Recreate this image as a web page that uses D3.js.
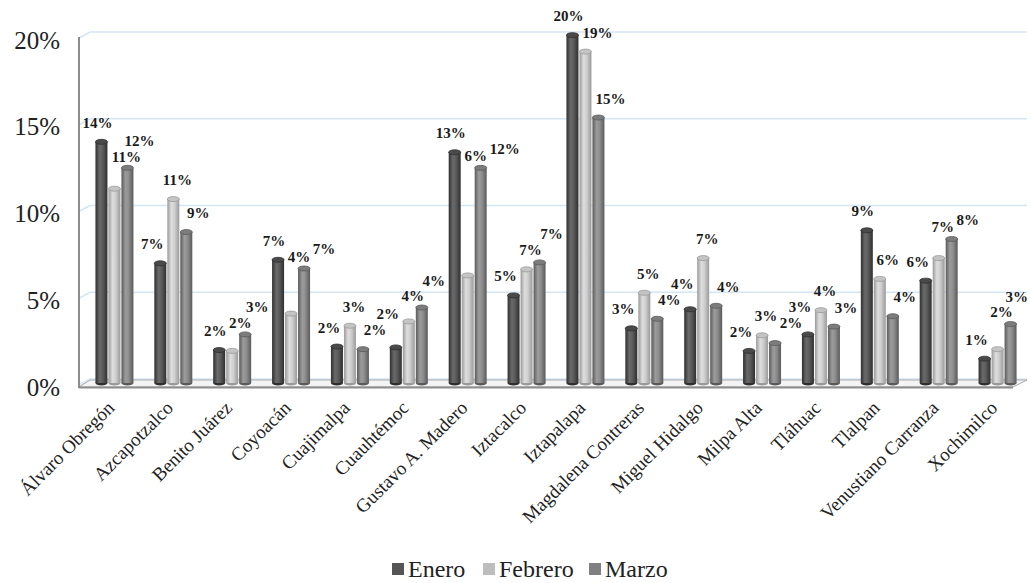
<!DOCTYPE html>
<html>
<head>
<meta charset="utf-8">
<script src="https://cdn.jsdelivr.net/npm/d3@7"></script>
</head>
<body style="margin:0">
<svg id="s" width="1031" height="583"></svg>
<script>
const categories = ["Álvaro Obregón", "Azcapotzalco", "Benito Juárez", "Coyoacán", "Cuajimalpa", "Cuauhtémoc",
  "Gustavo A. Madero", "Iztacalco", "Iztapalapa", "Magdalena Contreras", "Miguel Hidalgo", "Milpa Alta",
  "Tláhuac", "Tlalpan", "Venustiano Carranza", "Xochimilco"];
const seriesNames = ["Enero", "Febrero", "Marzo"];
const enero   = [13.9, 6.9, 1.9, 7.1, 2.1, 2.05, 13.3, 5.05, 20.05, 3.15, 4.25, 1.85, 2.8, 8.8, 5.9, 1.4];
const febrero = [11.2, 10.6, 1.85, 4.0, 3.3, 3.55, 6.2, 6.55, 19.1, 5.2, 7.2, 2.75, 4.2, 6.0, 7.2, 1.95];
const marzo   = [12.4, 8.7, 2.8, 6.6, 1.95, 4.35, 12.4, 6.95, 15.3, 3.7, 4.45, 2.3, 3.25, 3.85, 8.3, 3.4];
const yTicks  = [0, 5, 10, 15, 20];

const seriesValues = [enero, febrero, marzo];
const W = 1031, H = 583;
const FONT = '"Liberation Serif"';
const setFont = sel => sel.style("font-family", FONT, "important");

const ctx = document.createElement("canvas").getContext("2d");
["", "bold "].forEach(wt => {
  ctx.font = wt + "20px \"Liberation Serif\", monospace";
  ctx.measureText("Álvaro Obregón Enero 20%");
});

const svg = d3.select("#s");
const defs = svg.append("defs");

const palette = [
  { edge: "#2f2f2f", mid: "#5c5c5c", light: "#6a6a6a", cap: "#4a4a4a", key: "#555555" },
  { edge: "#9a9a9a", mid: "#cfcfcf", light: "#dedede", cap: "#c4c4c4", key: "#bdbdbd" },
  { edge: "#5a5a5a", mid: "#8e8e8e", light: "#9c9c9c", cap: "#7c7c7c", key: "#808080" }
];
palette.forEach((p, i) => {
  const g = defs.append("linearGradient").attr("id", "cyl" + i)
    .attr("x1", "0%").attr("x2", "100%").attr("y1", "0%").attr("y2", "0%");
  g.append("stop").attr("offset", "0%").attr("stop-color", p.edge);
  g.append("stop").attr("offset", "35%").attr("stop-color", p.light);
  g.append("stop").attr("offset", "60%").attr("stop-color", p.mid);
  g.append("stop").attr("offset", "100%").attr("stop-color", p.edge);
});

const x0 = d3.scaleBand().domain(categories).range([85, 1027]).paddingInner(0.338).paddingOuter(0.169);
const x1 = d3.scaleBand().domain(seriesNames).range([0, x0.bandwidth()]).padding(0);
const y = d3.scaleLinear().domain([0, 20]).range([383, 36]);

const axisX = 79, backDX = 11;

const grid = svg.append("g");
yTicks.forEach(t => {
  const gy = y(t) - 4;
  grid.append("line").attr("x1", axisX).attr("y1", gy + 6).attr("x2", axisX + backDX).attr("y2", gy)
    .attr("stroke", "#d4e5f4").attr("stroke-width", 1.5);
  grid.append("line").attr("x1", axisX + backDX).attr("y1", gy).attr("x2", 1027).attr("y2", gy)
    .attr("stroke", "#d4e5f4").attr("stroke-width", 1.5);
});

svg.append("path")
  .attr("d", `M${axisX},387 L1013,387 L1027,380 L${axisX + backDX},380 Z`)
  .attr("fill", "#f4f4f4").attr("stroke", "#a8a8a8").attr("stroke-width", 1);
svg.append("line").attr("x1", axisX).attr("y1", 387.5).attr("x2", 1013).attr("y2", 387.5)
  .attr("stroke", "#8c8c8c").attr("stroke-width", 2);
svg.append("line").attr("x1", axisX).attr("y1", 37).attr("x2", axisX).attr("y2", 388)
  .attr("stroke", "#8c8c8c").attr("stroke-width", 2);

// y tick labels
svg.append("g").selectAll("text").data(yTicks).join("text")
  .attr("x", 60).attr("y", d => y(d) + 4)
  .attr("text-anchor", "end").attr("dominant-baseline", "central")
  .attr("font-size", 25).attr("fill", "#222")
  .call(setFont)
  .text(d => d + "%");

// bars
const barRects = [];
const barsG = svg.append("g");
categories.forEach((c, ci) => {
  seriesNames.forEach((s, si) => {
    const v = seriesValues[si][ci];
    const bx = x0(c) + x1(s) + 0.5;
    const bw = x1.bandwidth() - 1;
    const top = y(v), bot = y(0);
    const p = palette[si];
    const g = barsG.append("g");
    g.append("ellipse").attr("cx", bx + bw / 2).attr("cy", bot).attr("rx", bw / 2).attr("ry", 2.5)
      .attr("fill", p.edge);
    g.append("rect").attr("x", bx).attr("y", top).attr("width", bw).attr("height", bot - top)
      .attr("fill", `url(#cyl${si})`);
    g.append("ellipse").attr("cx", bx + bw / 2).attr("cy", top).attr("rx", bw / 2).attr("ry", 2.5)
      .attr("fill", p.cap).attr("stroke", p.edge).attr("stroke-width", 0.8);
    barRects.push({ x0: bx, x1: bx + bw, y0: top - 3, y1: bot });
  });
});

// data labels with simple collision avoidance
const fmt = d3.format(".0%");
const shifts = [-4, 4, 12];
const placed = [];
const labelsG = svg.append("g");
function hits(b) {
  for (const r of barRects) if (b.x0 < r.x1 && b.x1 > r.x0 && b.y0 < r.y1 && b.y1 > r.y0) return true;
  for (const r of placed) if (b.x0 < r.x1 && b.x1 > r.x0 && b.y0 < r.y1 && b.y1 > r.y0) return true;
  return false;
}
const dxTries = [0, 4, 8, 12, -4, -8];
categories.forEach((c, ci) => {
  seriesNames.forEach((s, si) => {
    const v = seriesValues[si][ci];
    const t = labelsG.append("text").text(fmt(v / 100))
      .attr("text-anchor", "middle").attr("fill", "#1a1a1a")
      .attr("font-size", 15).attr("font-weight", "bold").call(setFont);
    const w = t.node().getComputedTextLength() + 2;
    const baseX = x0(c) + x1(s) + x1.bandwidth() / 2 + shifts[si];
    const baseY = Math.max(y(v) - 14, 20);
    let best = null;
    for (let dy = 0; dy <= 120 && !best; dy++) {
      for (const dx of dxTries) {
        const cost = dy + Math.abs(dx) * 1.5;
        let cx = Math.min(baseX + dx, W - w / 2 - 2);
        const b = { x0: cx - w / 2, x1: cx + w / 2, y0: baseY - dy - 12, y1: baseY - dy + 3 };
        if (!hits(b) && (!best || cost < best.cost)) best = { cost, cx, by: baseY - dy, b };
      }
    }
    if (!best) best = { cx: baseX, by: baseY, b: { x0: baseX - w / 2, x1: baseX + w / 2, y0: baseY - 12, y1: baseY + 3 } };
    placed.push(best.b);
    t.attr("x", best.cx).attr("y", best.by);
  });
});

// x category labels
svg.append("g").selectAll("text").data(categories).join("text")
  .attr("transform", d => `translate(${x0(d) + x0.bandwidth() / 2 + 1},409) rotate(-45)`)
  .attr("text-anchor", "end")
  .attr("font-size", 19).attr("fill", "#222").call(setFont)
  .text(d => d);

// legend
const legend = svg.append("g").attr("transform", "translate(392,569)");
const legendX = [0, 91, 197];
seriesNames.forEach((s, i) => {
  const g = legend.append("g").attr("transform", `translate(${legendX[i]},0)`);
  g.append("rect").attr("x", 0).attr("y", -6).attr("width", 12).attr("height", 12)
    .attr("fill", palette[i].key);
  g.append("text").attr("x", 16).attr("y", 0).attr("dominant-baseline", "central")
    .attr("font-size", 24).attr("fill", "#222").call(setFont).text(s);
});
</script>
</body>
</html>
